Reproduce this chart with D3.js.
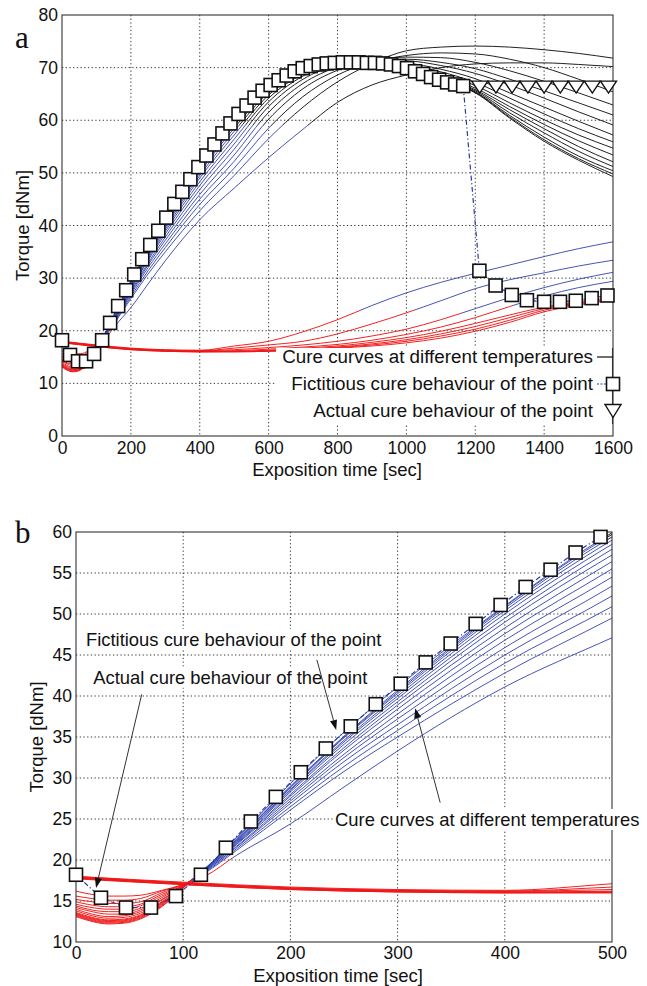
<!DOCTYPE html>
<html><head><meta charset="utf-8">
<script src="https://cdnjs.cloudflare.com/ajax/libs/d3/7.8.5/d3.min.js"></script>
<style>body{margin:0;background:#fff}</style>
</head><body>
<svg id="c" width="647" height="986"></svg>
<script>
// ---------------- DATA ----------------
// Sample times (s) for the fast-curing family of cure curves
const fastTimes = [0,15,30,45,60,80,100,120,150,200,250,300,400,500,600,700,800,900,1000,1100,1200,1300,1400,1500,1600];
// Torque (dNm) of each fast curve (highest temperature first)
const F1  = [13.1,12.5,12.2,12.3,12.8,14.3,16.6,18.9,22.8,29.3,35.6,41.1,51.0,59.9,66.4,69.8,70.9,70.8,69.8,67.6,65.2,60.4,56.0,52.4,49.3];
const F2  = [13.2,12.6,12.3,12.4,12.9,14.4,16.6,18.9,22.7,29.0,35.1,40.7,50.9,59.7,66.3,69.7,70.8,70.8,69.8,67.7,65.3,60.6,56.3,52.7,49.8];
const F3  = [13.3,12.7,12.4,12.5,13.0,14.5,16.7,18.9,22.5,28.9,35.0,40.5,50.7,59.4,66.2,69.7,70.8,70.8,69.8,67.8,65.4,60.9,56.8,53.2,50.4];
const F4  = [13.4,12.8,12.5,12.6,13.1,14.6,16.7,18.9,22.5,28.8,34.9,40.3,50.4,59.0,66.0,69.6,70.8,70.9,69.9,68.0,65.6,61.4,57.6,54.1,51.2];
const F5  = [13.5,12.9,12.6,12.7,13.2,14.7,16.7,18.9,22.4,28.6,34.6,40.0,50.0,58.5,65.7,69.5,70.8,70.9,70.0,68.2,65.8,62.0,58.4,55.0,52.1];
const F6  = [13.6,13.0,12.7,12.8,13.3,14.8,16.7,18.8,22.3,28.5,34.4,39.7,49.5,57.9,65.3,69.3,70.8,71.0,70.2,68.5,66.1,62.6,59.2,56.1,53.4];
const F7  = [13.8,13.2,12.9,13.0,13.5,14.9,16.8,18.8,22.2,28.3,34.1,39.3,49.0,57.2,64.8,69.1,70.8,71.1,70.4,68.8,66.6,63.3,60.1,57.2,54.7];
const F8  = [14.0,13.4,13.1,13.2,13.7,15.1,16.8,18.8,22.1,28.0,33.7,38.9,48.3,56.4,64.2,68.8,70.8,71.2,70.6,69.2,67.2,64.2,61.2,58.4,55.9];
const F9  = [14.2,13.7,13.4,13.4,13.9,15.2,16.8,18.7,22.0,27.8,33.4,38.4,47.6,55.5,63.5,68.4,70.7,71.3,70.9,69.7,67.9,65.2,62.5,59.8,57.2];
const F10 = [14.4,13.9,13.7,13.7,14.1,15.4,16.9,18.7,21.9,27.5,32.9,37.8,46.8,54.5,62.6,67.8,70.5,71.4,71.3,70.4,68.9,66.7,64.2,61.6,59.1];
const F11 = [14.6,14.2,14.0,14.0,14.4,15.6,16.9,18.6,21.7,27.2,32.5,37.2,45.9,53.4,61.5,67.0,70.1,71.4,71.6,71.0,69.8,67.8,65.6,63.3,61.0];
const F12 = [14.9,14.5,14.3,14.3,14.6,15.8,16.9,18.6,21.6,26.9,32.0,36.5,45.0,52.2,60.2,66.0,69.5,71.3,72.0,71.9,71.0,69.4,67.4,65.2,62.9];
const F13 = [15.2,14.9,14.7,14.7,14.9,16.0,17.0,18.5,21.4,26.5,31.4,35.8,44.0,50.9,58.5,64.5,68.6,71.0,72.3,72.8,72.6,71.6,70.0,67.8,65.4];
const F14 = [15.6,15.3,15.1,15.1,15.3,16.2,17.0,18.4,21.2,26.1,30.8,35.0,42.8,49.5,56.5,62.5,67.3,70.8,73.2,73.9,74.1,73.9,73.4,72.7,71.8];
const F15 = [16.2,15.8,15.6,15.6,15.7,16.3,17.0,18.0,20.6,24.4,28.9,33.3,41.1,47.1,52.9,58.3,63.4,66.7,68.6,70.0,70.7,70.9,70.9,70.6,70.2];
// End of the induction (scorch) period of each fast curve, s
const fastScorch = [103,103,103,103,103,103,103,103,103,103,103,103,108,115,145];

// Sample times (s) for the slow-curing family
const slowTimes = [0,100,200,300,400,500,600,700,800,900,1000,1100,1200,1300,1400,1500,1600];
const S1 = [18.0,17.3,16.7,16.4,16.3,17.1,18.0,19.8,22.1,24.8,27.2,29.2,30.9,32.5,34.1,35.6,36.9];
const S2 = [18.0,17.2,16.6,16.3,16.2,16.7,17.3,18.0,19.4,21.3,23.4,25.7,28.0,29.7,31.0,32.3,33.4];
const S3 = [17.9,17.2,16.6,16.3,16.2,16.4,16.8,17.3,18.0,19.0,20.3,22.1,24.2,26.3,28.2,29.8,31.1];
const S4 = [17.9,17.1,16.5,16.2,16.1,16.2,16.5,16.9,17.4,18.2,19.3,20.7,22.5,24.6,26.6,28.2,29.4];
const S5 = [17.8,17.1,16.5,16.2,16.1,16.1,16.3,16.7,17.1,17.8,18.7,19.9,21.4,23.0,24.5,25.5,26.3];
const S6 = [17.8,17.1,16.5,16.2,16.0,16.1,16.2,16.5,16.9,17.5,18.3,19.4,20.8,22.5,24.2,25.3,26.1];
const S7 = [17.8,17.0,16.4,16.1,16.0,16.0,16.1,16.4,16.8,17.3,18.0,19.0,20.3,22.0,23.9,25.1,25.9];
const S8 = [17.7,17.0,16.4,16.1,16.0,16.0,16.1,16.3,16.7,17.1,17.7,18.6,19.9,21.6,23.6,24.9,25.8];
const slowScorch = [865,1025,1160,1310,9999,9999,9999,9999];

// Fictitious cure behaviour of the point (squares)
const fictT = [0,23.3,46.6,69.9,93.2,116.5,139.8,163.1,186.4,209.7,233,256.3,279.6,302.9,326.2,349.5,372.8,396.1,419.4,442.7,466,489.3,512.6,535.9,559.2,582.5,605.8,629.1,652.4,675.7,699,722.3,745.6,768.9,792.2,815.5,838.8,862.1,885.4,908.7,932,955.3,978.6,1001.9,1025.2,1048.5,1071.8,1095.1,1118.4,1141.7,1165,1212,1259,1306,1350,1400,1446,1492,1538,1584];
const fictV = [18.2,15.4,14.2,14.2,15.6,18.2,21.5,24.7,27.7,30.7,33.6,36.3,39.0,41.5,44.1,46.4,48.8,51.1,53.3,55.4,57.5,59.4,61.2,62.8,64.3,65.6,66.7,67.6,68.5,69.3,69.9,70.3,70.6,70.8,70.9,71.0,71.0,71.0,70.9,70.9,70.8,70.6,70.3,69.9,69.3,68.8,68.2,67.7,67.2,66.8,66.5,31.4,28.6,26.8,25.8,25.5,25.5,25.7,26.2,26.7];
// Actual cure behaviour of the point (triangles)
const actualT = [1213,1260,1307,1353,1400,1447,1493,1540,1587];
const actualV = [66.3,66.3,66.3,66.3,66.3,66.3,66.3,66.3,66.3];

// Axes ticks
const xTicksA = [0,200,400,600,800,1000,1200,1400,1600];
const yTicksA = [0,10,20,30,40,50,60,70,80];
const xTicksB = [0,100,200,300,400,500];
const yTicksB = [10,15,20,25,30,35,40,45,50,55,60];

// Legend / annotation texts
const legendLabels = ["Cure curves at different temperatures","Fictitious cure behaviour of the point","Actual cure behaviour of the point"];
const annoLabels = ["Fictitious cure behaviour of the point","Actual cure behaviour of the point","Cure curves at different temperatures"];
const annoTextT = [9.3, 16.1, 241.7];
const annoTextV = [46.1, 41.5, 24.15];
const arrowFromT = [224.7, 61.3, 339.7];
const arrowFromV = [44.4, 40.2, 27.0];
const arrowToT = [242.7, 18.7, 316.4];
const arrowToV = [35.85, 16.6, 38.5];

// ---------------- DRAWING ----------------
const FONT = '"Liberation Sans", Arial, Helvetica, sans-serif';
const RED = '#f01616', BLUE = '#3a4ab2', BLACK = '#151515';
const BLACK_LEVEL = 59;
const svg = d3.select('#c');
const defs = svg.append('defs');

const fastCurves = [F1,F2,F3,F4,F5,F6,F7,F8,F9,F10,F11,F12,F13,F14,F15];
const slowCurves = [S1,S2,S3,S4,S5,S6,S7,S8];
const curves = [];
fastCurves.forEach((v,i)=>curves.push({t:fastTimes, v, scorch:fastScorch[i]}));
slowCurves.forEach((v,i)=>curves.push({t:slowTimes, v, scorch:slowScorch[i]}));

function blackStart(ts, vs){
  for(let k=1;k<ts.length;k++){
    if(vs[k]>=BLACK_LEVEL && vs[k-1]<BLACK_LEVEL){
      const f=(BLACK_LEVEL-vs[k-1])/(vs[k]-vs[k-1]);
      return ts[k-1]+f*(ts[k]-ts[k-1]);
    }
  }
  return null;
}

function panel(P){
  const g = svg.append('g');
  const x = d3.scaleLinear().domain(P.xDom).range([P.left,P.right]);
  const y = d3.scaleLinear().domain(P.yDom).range([P.bottom,P.top]);
  const clipId = 'clip'+P.id;
  defs.append('clipPath').attr('id',clipId).append('rect')
    .attr('x',P.left).attr('y',P.top).attr('width',P.right-P.left).attr('height',P.bottom-P.top);

  // grid
  const grid = g.append('g').attr('stroke','#222').attr('stroke-width',0.9).attr('stroke-dasharray','1.3,2.4');
  P.xTicks.slice(1,-1).forEach(t=>grid.append('line').attr('x1',x(t)).attr('x2',x(t)).attr('y1',P.top).attr('y2',P.bottom));
  P.yTicks.slice(1,-1).forEach(v=>grid.append('line').attr('x1',P.left).attr('x2',P.right).attr('y1',y(v)).attr('y2',y(v)));

  // cure curves
  const line = d3.line().x(d=>x(d[0])).y(d=>y(d[1])).curve(d3.curveMonotoneX);
  const cg = g.append('g').attr('clip-path',`url(#${clipId})`);
  curves.forEach((c,i)=>{
    const tEnd = c.t[c.t.length-1];
    const tb = blackStart(c.t, c.v);
    const x0 = x(c.t[0]), x1 = x(tEnd);
    const f = t => (t===null) ? 1 : Math.max(0, Math.min(1, (x(Math.min(t,tEnd))-x0)/(x1-x0)));
    const gid = 'gr'+P.id+i;
    const lg = defs.append('linearGradient').attr('id',gid).attr('gradientUnits','userSpaceOnUse')
      .attr('x1',x0).attr('x2',x1).attr('y1',0).attr('y2',0);
    const stops = [[0,RED],[f(c.scorch),RED],[f(c.scorch),BLUE],[f(tb),BLUE]];
    if(tb!==null){ stops.push([f(tb),BLACK],[1,BLACK]); }
    stops.forEach(s=>lg.append('stop').attr('offset',s[0]).attr('stop-color',s[1]));
    cg.append('path').attr('d', line(c.t.map((t,k)=>[t,c.v[k]])))
      .attr('fill','none').attr('stroke',`url(#${gid})`).attr('stroke-width',0.95);
  });

  // fictitious dash-dot line
  const fpts = fictT.map((t,k)=>[t,fictV[k]]).filter(d=>d[0]<=P.xDom[1]);
  cg.append('path').attr('d', d3.line().x(d=>x(d[0])).y(d=>y(d[1]))(fpts))
    .attr('fill','none').attr('stroke','#2a3aa8').attr('stroke-width',1.2).attr('stroke-dasharray','5,2.5,1.2,2.5');

  // frame
  g.append('rect').attr('x',P.left).attr('y',P.top).attr('width',P.right-P.left).attr('height',P.bottom-P.top)
    .attr('fill','none').attr('stroke','#333').attr('stroke-width',1.1);

  // squares
  const S = 13;
  g.append('g').selectAll('rect').data(fpts).join('rect')
    .attr('x',d=>x(d[0])-S/2).attr('y',d=>y(d[1])-S/2).attr('width',S).attr('height',S)
    .attr('fill','#fff').attr('stroke','#111').attr('stroke-width',1.6);

  // triangles
  if(P.showTri){
    g.append('g').selectAll('path').data(actualT.map((t,k)=>[t,actualV[k]]).filter(d=>d[0]<=P.xDom[1])).join('path')
      .attr('d', d=>`M${x(d[0])-8},${y(d[1])-6}L${x(d[0])+8},${y(d[1])-6}L${x(d[0])},${y(d[1])+6}Z`)
      .attr('fill','#fff').attr('stroke','#111').attr('stroke-width',1.4);
  }

  // axes labels
  const ax = g.append('g').attr('transform',`translate(0,${P.bottom})`)
    .call(d3.axisBottom(x).tickValues(P.xTicks).tickSize(0).tickPadding(P.xPad).tickFormat(d3.format('d')));
  ax.select('.domain').remove();
  ax.attr('font-size',17.5).attr('font-family',FONT);
  ax.selectAll('text').attr('fill','#111');
  const ay = g.append('g').attr('transform',`translate(${P.left},0)`)
    .call(d3.axisLeft(y).tickValues(P.yTicks).tickSize(0).tickPadding(4).tickFormat(d3.format('d')));
  ay.select('.domain').remove();
  ay.attr('font-size',17.5).attr('font-family',FONT);
  ay.selectAll('text').attr('fill','#111');

  g.append('text').attr('x',P.xLabelX).attr('y',P.xLabelY).attr('text-anchor','middle')
    .attr('font-family',FONT).attr('font-size',18.5).attr('fill','#111').text('Exposition time [sec]');
  g.append('text').attr('transform',`translate(${P.yLabelX},${(P.top+P.bottom)/2}) rotate(-90)`)
    .attr('text-anchor','middle').attr('dominant-baseline','central')
    .attr('font-family',FONT).attr('font-size',18.5).attr('fill','#111').text('Torque [dNm]');
  g.append('text').attr('x',15).attr('y',P.letterY).attr('font-family','"Liberation Serif", "Times New Roman", serif')
    .attr('font-size',31).attr('fill','#111').text(P.id);
  return {g,x,y};
}

// Panel a
const A = panel({id:'a', left:62, right:613, top:15, bottom:436, xDom:[0,1600], yDom:[0,80],
  xTicks:xTicksA, yTicks:yTicksA, xPad:6, xLabelX:337, xLabelY:476, yLabelX:22, letterY:48, showTri:true});
// legend a
(function(){
  const g = A.g.append('g');
  g.append('rect').attr('x',276).attr('y',348).attr('width',336).attr('height',76).attr('fill','#fff');
  g.append('line').attr('x1',612.5).attr('x2',612.5).attr('y1',348).attr('y2',424).attr('stroke','#333').attr('stroke-width',1.1);
  const ys = [363.3, 389.5, 416.5];
  legendLabels.forEach((s,i)=>g.append('text').attr('x',593).attr('y',ys[i]).attr('text-anchor','end')
    .attr('font-family',FONT).attr('font-size',18.8).attr('fill','#111').text(s));
  g.append('line').attr('x1',597).attr('x2',613).attr('y1',357).attr('y2',357).attr('stroke','#111').attr('stroke-width',1.2);
  g.append('line').attr('x1',597).attr('x2',607).attr('y1',384).attr('y2',384).attr('stroke','#2a3aa8').attr('stroke-width',1.2).attr('stroke-dasharray','2,1.5');
  g.append('rect').attr('x',613-6.5).attr('y',384-6.5).attr('width',13).attr('height',13).attr('fill','#fff').attr('stroke','#111').attr('stroke-width',1.6);
  g.append('path').attr('d','M605,404.5L621,404.5L613,417.5Z').attr('fill','#fff').attr('stroke','#111').attr('stroke-width',1.4);
})();

// Panel b
const B = panel({id:'b', left:76, right:612, top:532, bottom:942, xDom:[0,500], yDom:[10,60],
  xTicks:xTicksB, yTicks:yTicksB, xPad:5, xLabelX:338, xLabelY:982, yLabelX:36, letterY:543, showTri:false});
// annotations b
(function(){
  const g = B.g.append('g');
  annoLabels.forEach((s,i)=>{
    const tx = g.append('text').attr('x',B.x(annoTextT[i])).attr('y',B.y(annoTextV[i]))
      .attr('font-family',FONT).attr('font-size',18.4).attr('fill','#111').text(s);
    const bb = tx.node().getBBox();
    g.insert('rect','text').attr('x',bb.x-2).attr('y',bb.y).attr('width',bb.width+4).attr('height',bb.height).attr('fill','#fff');
  });
  annoLabels.forEach((s,i)=>{
    const x1=B.x(arrowFromT[i]), y1=B.y(arrowFromV[i]), x2=B.x(arrowToT[i]), y2=B.y(arrowToV[i]);
    const ang = Math.atan2(y2-y1,x2-x1), L=10, W=3.6;
    const bx = x2-L*Math.cos(ang), by = y2-L*Math.sin(ang);
    g.append('line').attr('x1',x1).attr('y1',y1).attr('x2',bx).attr('y2',by).attr('stroke','#333').attr('stroke-width',1);
    g.append('path').attr('d',`M${x2},${y2}L${bx+W*Math.sin(ang)},${by-W*Math.cos(ang)}L${bx-W*Math.sin(ang)},${by+W*Math.cos(ang)}Z`).attr('fill','#111');
  });
})();
</script>
</body></html>
